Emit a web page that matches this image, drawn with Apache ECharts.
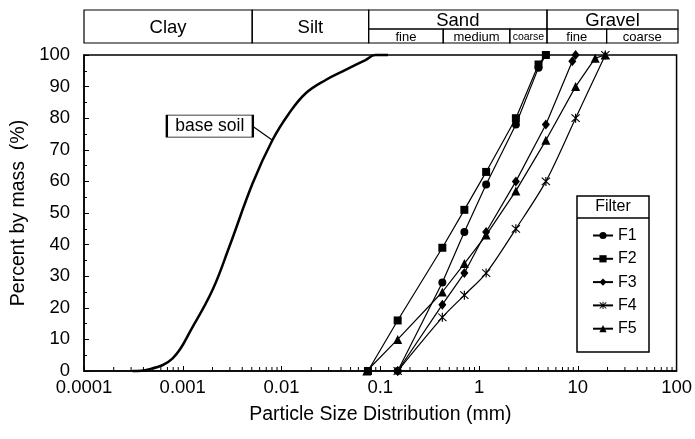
<!DOCTYPE html>
<html>
<head>
<meta charset="utf-8">
<script src="https://cdn.jsdelivr.net/npm/echarts@6/dist/echarts.min.js"></script>
<style>
html, body { margin: 0; padding: 0; background: #fff; }
#main { width: 695px; height: 439px; }
</style>
</head>
<body>
<div id="main"></div>
<script>
// particle size (mm), percent passing
var baseSoil = [[0.00031, 0], [0.00045, 0.5], [0.00079, 4], [0.00126, 14], [0.002, 25.6], [0.00296, 39.3],
    [0.0051, 59.4], [0.0081, 73.1], [0.0119, 81.5], [0.0176, 87.9], [0.028, 92.1],
    [0.0445, 95.3], [0.0708, 98.4], [0.089, 100], [0.12, 100]];
var f1 = [[0.15, 0], [0.425, 28], [0.71, 44], [1.18, 59], [2.36, 78], [4.0, 96], [4.75, 100]];
var f2 = [[0.075, 0], [0.15, 16], [0.425, 39], [0.71, 51], [1.18, 63], [2.36, 80], [4.0, 97], [4.75, 100]];
var f3 = [[0.15, 0], [0.425, 21], [0.71, 31], [1.18, 44], [2.36, 60], [4.75, 78], [8.8, 98], [9.5, 100]];
var f4 = [[0.15, 0], [0.425, 17], [0.71, 24], [1.18, 31], [2.36, 45], [4.75, 60], [9.5, 80], [19, 100]];
var f5 = [[0.073, 0], [0.15, 10], [0.425, 25], [0.71, 34], [1.18, 43], [2.36, 57], [4.75, 73], [9.5, 90], [15, 99], [19, 100]];
var filterNames = ['F1', 'F2', 'F3', 'F4', 'F5'];

// soil classification band on top
var zoneNames = ['Clay', 'Silt', 'Sand', 'Gravel', 'fine', 'medium', 'coarse', 'fine', 'coarse'];
var zoneFrom = [0.0001, 0.005, 0.075, 4.75, 0.075, 0.425, 2, 4.75, 19];
var zoneTo = [0.005, 0.075, 4.75, 100, 0.425, 2, 4.75, 19, 100];
var zoneRow = ['full', 'full', 'top', 'top', 'bottom', 'bottom', 'bottom', 'bottom', 'bottom'];

var yTicks = [0, 10, 20, 30, 40, 50, 60, 70, 80, 90, 100];

var FONT = '"Liberation Sans", Arial, sans-serif';
var asterisk = 'path://M4.4 0H5.6V10H4.4Z M0.4 1.2L1.2 0.4L9.6 8.8L8.8 9.6Z M8.8 0.4L9.6 1.2L1.2 9.6L0.4 8.8Z';

// minor ticks 2..9 in each decade
var minorTicks = [];
for (var e = -4; e < 2; e++) {
    for (var m = 2; m < 10; m++) minorTicks.push([m * Math.pow(10, e), 0]);
}

var zoneData = zoneNames.map(function (n, i) {
    var y0 = zoneRow[i] == 'top' ? 14 : 0;
    var y1 = zoneRow[i] == 'bottom' ? 14 : 33;
    return [zoneFrom[i], zoneTo[i], y0, y1, n, zoneRow[i]];
});

var chart = echarts.init(document.getElementById('main'));

function mkLine(name, data, symbol, size, smooth) {
    return {
        name: name, type: 'line', data: data, xAxisIndex: 0, yAxisIndex: 0,
        symbol: symbol, symbolSize: size, showSymbol: true, smooth: smooth || false, clip: false,
        lineStyle: { color: '#000', width: 1.2 },
        itemStyle: { color: '#000' },
        z: 3
    };
}

var option = {
    animation: false,
    textStyle: { fontFamily: FONT },
    grid: [
        { left: 84, right: 16, top: 55, bottom: 68, show: true, borderColor: '#000', borderWidth: 1.5, backgroundColor: 'transparent' },
        { left: 84, right: 17, top: 10, height: 33 }
    ],
    xAxis: [{
        type: 'log', gridIndex: 0, logBase: 10, min: 0.0001, max: 100, splitNumber: 6,
        name: 'Particle Size Distribution (mm)', nameLocation: 'middle', nameGap: 34,
        nameTextStyle: { color: '#000', fontSize: 19.5, fontFamily: FONT },
        axisLine: { lineStyle: { color: '#000', width: 1.5 } },
        axisTick: { inside: true, length: 5, lineStyle: { color: '#000' } },
        splitLine: { show: false },
        axisLabel: { color: '#000', fontSize: 18.5, margin: 7, fontFamily: FONT,
            formatter: function (v) { return String(Number(v.toPrecision(6))); } }
    }, {
        type: 'log', gridIndex: 1, logBase: 10, min: 0.0001, max: 100, show: false
    }],
    yAxis: [{
        type: 'value', gridIndex: 0, min: 0, max: 100, interval: 10,
        name: 'Percent by mass  (%)', nameLocation: 'middle', nameGap: 54,
        nameTextStyle: { color: '#000', fontSize: 19.5, fontFamily: FONT },
        axisLine: { show: true, lineStyle: { color: '#000', width: 1.5 } },
        axisTick: { show: true, inside: true, length: 5, lineStyle: { color: '#000' } },
        minorTick: { show: true, splitNumber: 2, length: 3, lineStyle: { color: '#000' } },
        splitLine: { show: false },
        axisLabel: { color: '#000', fontSize: 18.5, margin: 14, fontFamily: FONT,
            formatter: function (v) { return yTicks.indexOf(v) >= 0 ? String(v) : ''; } }
    }, {
        type: 'value', gridIndex: 1, min: 0, max: 33, show: false
    }],
    legend: {
        orient: 'vertical', left: 587, top: 222, itemWidth: 20, itemHeight: 9, itemGap: 6.3,
        data: filterNames,
        textStyle: { color: '#000', fontSize: 16, lineHeight: 17, fontFamily: FONT }
    },
    graphic: [
        { type: 'rect', shape: { x: 577, y: 196, width: 72, height: 156 }, style: { fill: '#fff', stroke: '#000', lineWidth: 1.5 }, z: 1 },
        { type: 'line', shape: { x1: 577, y1: 218, x2: 649, y2: 218 }, style: { stroke: '#000', lineWidth: 1.5 }, z: 2 },
        { type: 'text', x: 613, y: 207, style: { text: 'Filter', fill: '#000', font: '16px ' + FONT, textAlign: 'center', textVerticalAlign: 'middle' }, z: 2 }
    ],
    series: [
        {
            name: 'base soil', type: 'line', data: baseSoil, smooth: 0.4, symbol: 'none', clip: false,
            lineStyle: { color: '#000', width: 2.5 },
            markLine: {
                silent: true, symbol: 'none', label: { show: false },
                lineStyle: { color: '#000', width: 1.2, type: 'solid' },
                data: [[{ coord: [0.00506, 77.5] }, { coord: [0.0081, 73] }]]
            },
            markPoint: {
                silent: true,
                data: [{
                    coord: [0.00188, 77.5], symbol: 'rect', symbolSize: [86, 22],
                    itemStyle: { color: '#fff', borderColor: '#000', borderWidth: 1.2 },
                    label: { show: true, formatter: 'base soil', color: '#000', fontSize: 17.5, fontFamily: FONT }
                }]
            },
            z: 3
        },
        mkLine('F1', f1, 'circle', 8),
        mkLine('F2', f2, 'rect', 8),
        mkLine('F3', f3, 'diamond', [8, 10]),
        mkLine('F4', f4, asterisk, 9, 0.3),
        mkLine('F5', f5, 'triangle', 9),
        {
            type: 'custom', xAxisIndex: 0, yAxisIndex: 0, data: minorTicks, silent: true, clip: false,
            renderItem: function (params, api) {
                var p = api.coord([api.value(0), 0]);
                return { type: 'line', shape: { x1: p[0], y1: p[1], x2: p[0], y2: p[1] - 4 },
                    style: { stroke: '#000', lineWidth: 1 } };
            }
        },
        {
            type: 'custom', xAxisIndex: 1, yAxisIndex: 1, data: zoneData, silent: true, clip: false,
            renderItem: function (params, api) {
                var a = api.coord([api.value(0), api.value(3)]);
                var b = api.coord([api.value(1), api.value(2)]);
                var w = b[0] - a[0], h = b[1] - a[1];
                var row = zoneData[params.dataIndex][5];
                var fs = row == 'bottom' ? (w < 40 ? 10.5 : 13) : 18.5;
                return {
                    type: 'group',
                    children: [
                        { type: 'rect', shape: { x: a[0], y: a[1], width: w, height: h }, style: { fill: 'none', stroke: '#000', lineWidth: 1.2 } },
                        { type: 'text', x: a[0] + w / 2, y: a[1] + h / 2 + 1,
                          style: { text: zoneData[params.dataIndex][4], fill: '#000', font: fs + 'px ' + FONT, textAlign: 'center', textVerticalAlign: 'middle' } }
                    ]
                };
            }
        }
    ]
};

chart.setOption(option);
</script>
</body>
</html>
